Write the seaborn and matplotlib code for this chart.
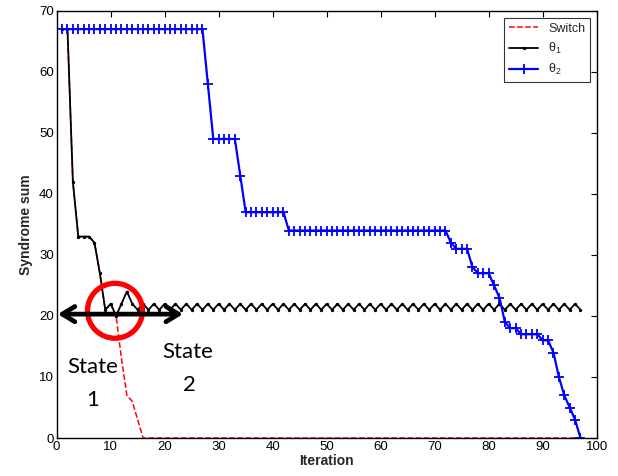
import numpy as np
import pandas as pd
import matplotlib
matplotlib.use("Agg")
import matplotlib.pyplot as plt
from matplotlib.patches import Ellipse
import seaborn as sns

# Syndrome sum per iteration
iterations = list(range(1, 98))

theta1_head = [67, 67, 42, 33, 33, 33, 32, 27, 21, 22, 20, 22, 24, 22, 21]
theta1_tail = [22, 21] * 41  # iterations 16..97 oscillate between two states
theta1 = theta1_head + theta1_tail

switch_head = [67, 67, 42, 33, 33, 33, 32, 27, 21, 22, 20, 13, 7, 6, 3]
switch = switch_head + [0] * 82

theta2 = ([67] * 27 + [58] + [49] * 5 + [43] + [37] * 8 + [34] * 30
          + [32] + [31] * 3 + [28] + [27] * 3 + [25, 23, 19, 18, 18]
          + [17] * 4 + [16, 16, 14, 10, 7, 5, 3, 0])

x_ticks = list(range(0, 101, 10))
y_ticks = list(range(0, 71, 10))

df = pd.DataFrame({"Iteration": iterations, "Switch": switch,
                   "theta1": theta1, "theta2": theta2})

sns.set_style("white")
plt.rcParams["font.family"] = ["Liberation Sans", "DejaVu Sans"]
plt.rcParams["mathtext.fontset"] = "custom"
plt.rcParams["mathtext.rm"] = "Liberation Sans"
plt.rcParams["mathtext.it"] = "Liberation Sans"

fig = plt.figure(figsize=(6.18, 4.76), dpi=100)
ax = fig.add_axes([0.0917, 0.0798, 0.8738, 0.8975])

sns.lineplot(data=df, x="Iteration", y="Switch", ax=ax, color="red",
             linestyle="--", linewidth=1.1, label="Switch")
sns.lineplot(data=df, x="Iteration", y="theta1", ax=ax, color="black",
             linewidth=1.3, marker="o", markersize=2.4,
             markeredgecolor="black", markerfacecolor="black",
             markeredgewidth=0, label=r"$\mathregular{\theta_1}$")
sns.lineplot(data=df, x="Iteration", y="theta2", ax=ax, color="blue",
             linewidth=1.6, marker="+", markersize=7, markeredgewidth=1.3,
             markeredgecolor="blue", label=r"$\mathregular{\theta_2}$")

ax.set_xlim(0, 100)
ax.set_ylim(0, 70)
ax.set_xticks(x_ticks)
ax.set_yticks(y_ticks)
ax.tick_params(direction="in", length=4, width=0.8, top=True, right=True,
               labelsize=9.5, pad=2, colors="black")
for s in ax.spines.values():
    s.set_color("black")
    s.set_linewidth(1.0)
ax.set_xlabel("Iteration", fontsize=10, fontweight="bold", labelpad=1)
ax.set_ylabel("Syndrome sum", fontsize=10, fontweight="bold", labelpad=4)

leg = ax.legend(loc="upper right", bbox_to_anchor=(0.988, 0.984),
                borderaxespad=0, fontsize=9, handlelength=2.3,
                labelspacing=0.5, fancybox=False, frameon=True,
                borderpad=0.4)
leg.get_frame().set_edgecolor("black")
leg.get_frame().set_linewidth(0.8)

# Annotation: circle around the switching point and the two-state arrow
ax.add_patch(Ellipse((10.8, 20.85), width=10.2, height=9.0, fill=False,
                     edgecolor="red", linewidth=3.8, zorder=5))
ax.annotate("", xy=(-0.3, 20.3), xytext=(23.9, 20.3),
            arrowprops=dict(arrowstyle="<->,head_length=0.9,head_width=0.55",
                            color="black", lw=3.4),
            annotation_clip=False, zorder=6)

state_font = dict(fontsize=16, family=["Lato", "DejaVu Sans"],
                  ha="center", va="center", color="black")
ax.text(6.6, 11.6, "State", **state_font)
ax.text(6.6, 6.2, "1", **state_font)
ax.text(24.3, 14.1, "State", **state_font)
ax.text(24.5, 8.7, "2", **state_font)

fig.savefig("out.png", dpi=100)
